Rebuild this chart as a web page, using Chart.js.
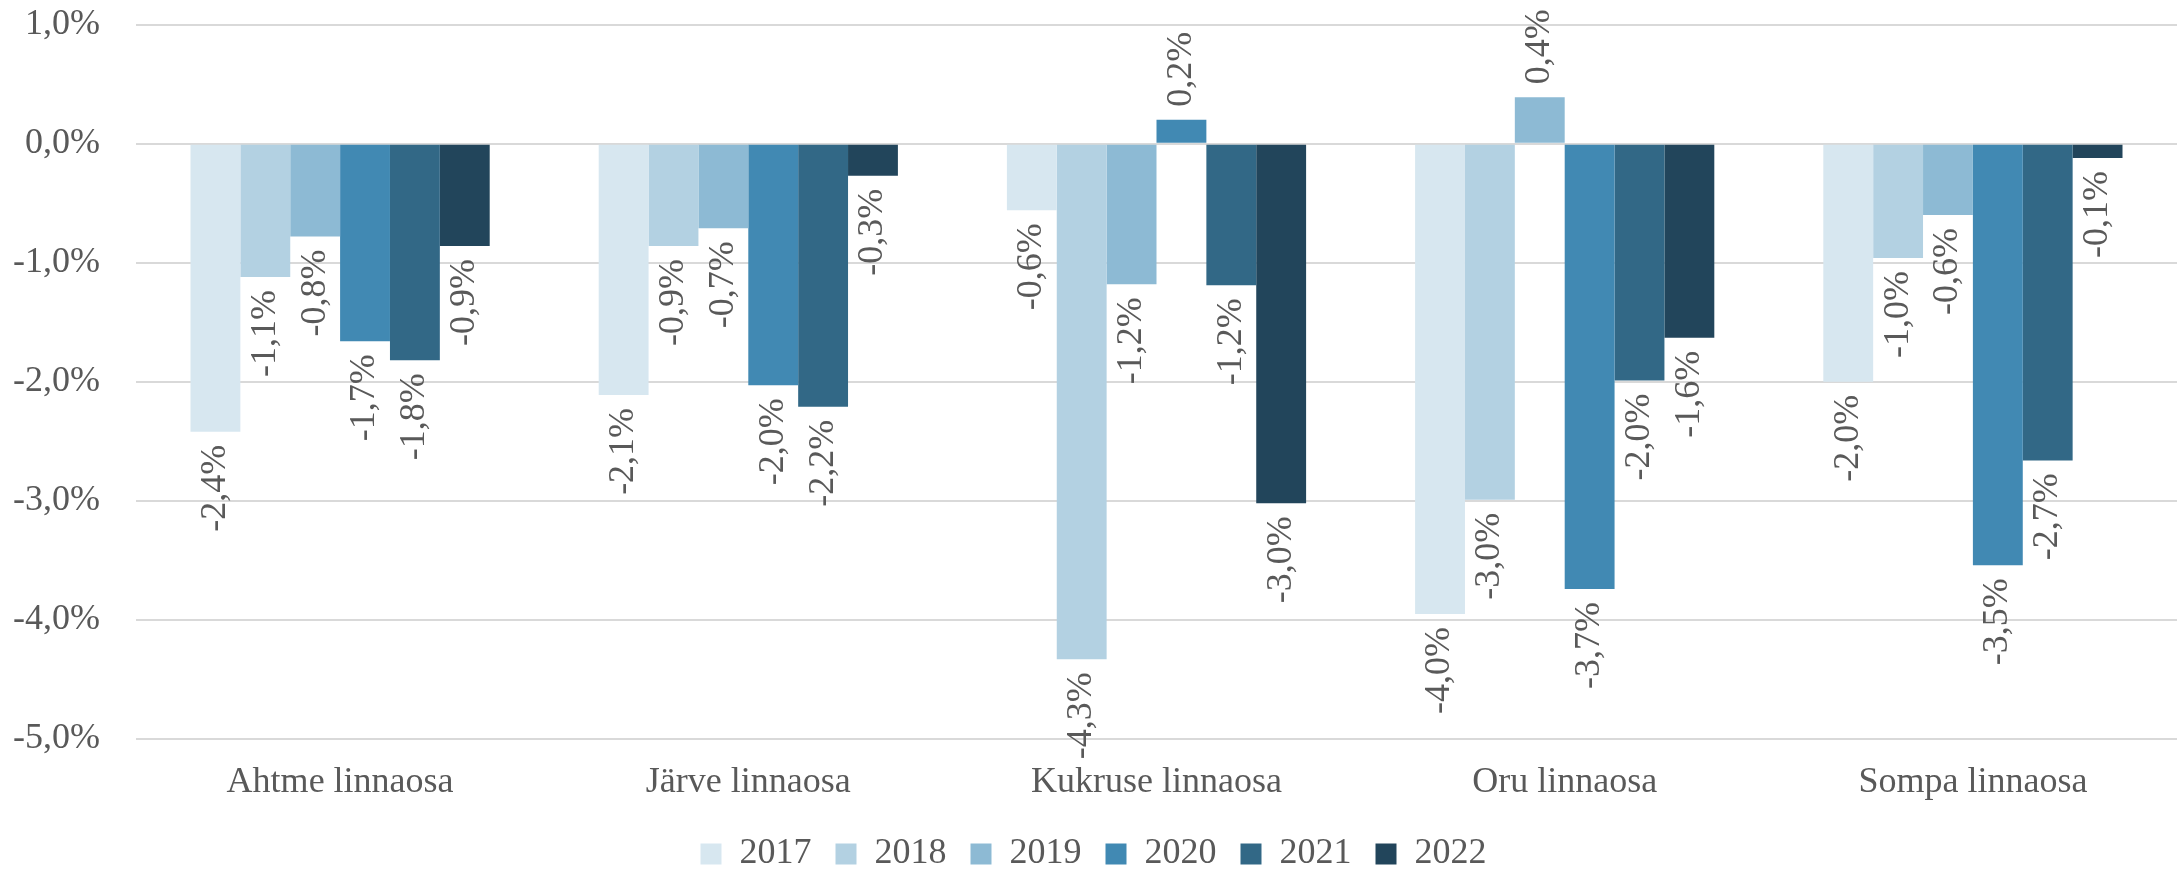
<!DOCTYPE html>
<html lang="et">
<head>
  <meta charset="UTF-8">
  <title>Linnaosade muutus</title>
  <script src="https://cdn.jsdelivr.net/npm/chart.js"></script>
  <style>
    body { margin: 0; background: #fff; }
    #wrap { width: 2178px; height: 872px; }
  </style>
</head>
<body>
  <div id="wrap"><canvas id="grafik"></canvas></div>

  <script>
    const linnaosad = ['Ahtme linnaosa', 'Järve linnaosa', 'Kukruse linnaosa', 'Oru linnaosa', 'Sompa linnaosa'];
    const aastad = ['2017', '2018', '2019', '2020', '2021', '2022'];

    const v2017 = [-2.42, -2.11, -0.56, -3.95, -2.0];
    const v2018 = [-1.12, -0.86, -4.33, -2.99, -0.96];
    const v2019 = [-0.78, -0.71, -1.18, 0.39, -0.6];
    const v2020 = [-1.66, -2.03, 0.2, -3.74, -3.54];
    const v2021 = [-1.82, -2.21, -1.19, -1.99, -2.66];
    const v2022 = [-0.86, -0.27, -3.02, -1.63, -0.12];

    const yTicks = [1, 0, -1, -2, -3, -4, -5];

    const varvid = ['#d7e7f0', '#b3d1e2', '#8dbad4', '#4189b3', '#326886', '#22455b'];
    const seeriad = [v2017, v2018, v2019, v2020, v2021, v2022];

    const font = '"Liberation Serif", serif';
    const hall = '#595959';

    function protsent(v) {
      return v.toFixed(1).replace('.', ',') + '%';
    }

    // väärtuste sildid, pööratud 90 kraadi
    const sildid = {
      id: 'sildid',
      afterDatasetsDraw(chart) {
        const ctx = chart.ctx;
        ctx.save();
        ctx.font = '36px ' + font;
        ctx.fillStyle = hall;
        ctx.textBaseline = 'middle';
        chart.data.datasets.forEach((ds, i) => {
          chart.getDatasetMeta(i).data.forEach((bar, j) => {
            const v = ds.data[j];
            ctx.save();
            ctx.translate(bar.x, bar.y);
            ctx.rotate(-Math.PI / 2);
            if (v < 0) {
              ctx.textAlign = 'right';
              ctx.fillText(protsent(v), -13, 0);
            } else {
              ctx.textAlign = 'left';
              ctx.fillText(protsent(v), 13, 0);
            }
            ctx.restore();
          });
        });
        ctx.restore();
      }
    };

    new Chart(document.getElementById('grafik'), {
      type: 'bar',
      data: {
        labels: linnaosad,
        datasets: aastad.map((a, i) => ({
          label: a,
          data: seeriad[i],
          backgroundColor: varvid[i],
          borderWidth: 0
        }))
      },
      options: {
        responsive: true,
        maintainAspectRatio: false,
        animation: false,
        categoryPercentage: 0.733,
        barPercentage: 1,
        layout: { padding: { top: 0, right: 1, left: 10, bottom: -10 } },
        scales: {
          x: {
            grid: { display: false, drawTicks: false },
            border: { display: false },
            ticks: { color: hall, font: { family: font, size: 36 }, padding: 22 },
            afterFit: (axis) => { axis.height = 73; }
          },
          y: {
            min: -5,
            max: 1,
            afterBuildTicks: (axis) => { axis.ticks = yTicks.map(v => ({ value: v })); },
            afterFit: (axis) => { axis.width = 126; },
            grid: { color: '#d9d9d9', lineWidth: 2, drawTicks: true, tickLength: 33, tickColor: 'rgba(0,0,0,0)' },
            border: { display: false },
            ticks: {
              color: hall,
              font: { family: font, size: 36 },
              padding: 3,
              callback: (v) => protsent(v)
            }
          }
        },
        plugins: {
          legend: {
            position: 'bottom',
            labels: {
              color: hall,
              font: { family: font, size: 36 },
              boxWidth: 21,
              boxHeight: 21,
              padding: 24
            }
          },
          tooltip: { enabled: false }
        }
      },
      plugins: [sildid]
    });
  </script>
</body>
</html>
